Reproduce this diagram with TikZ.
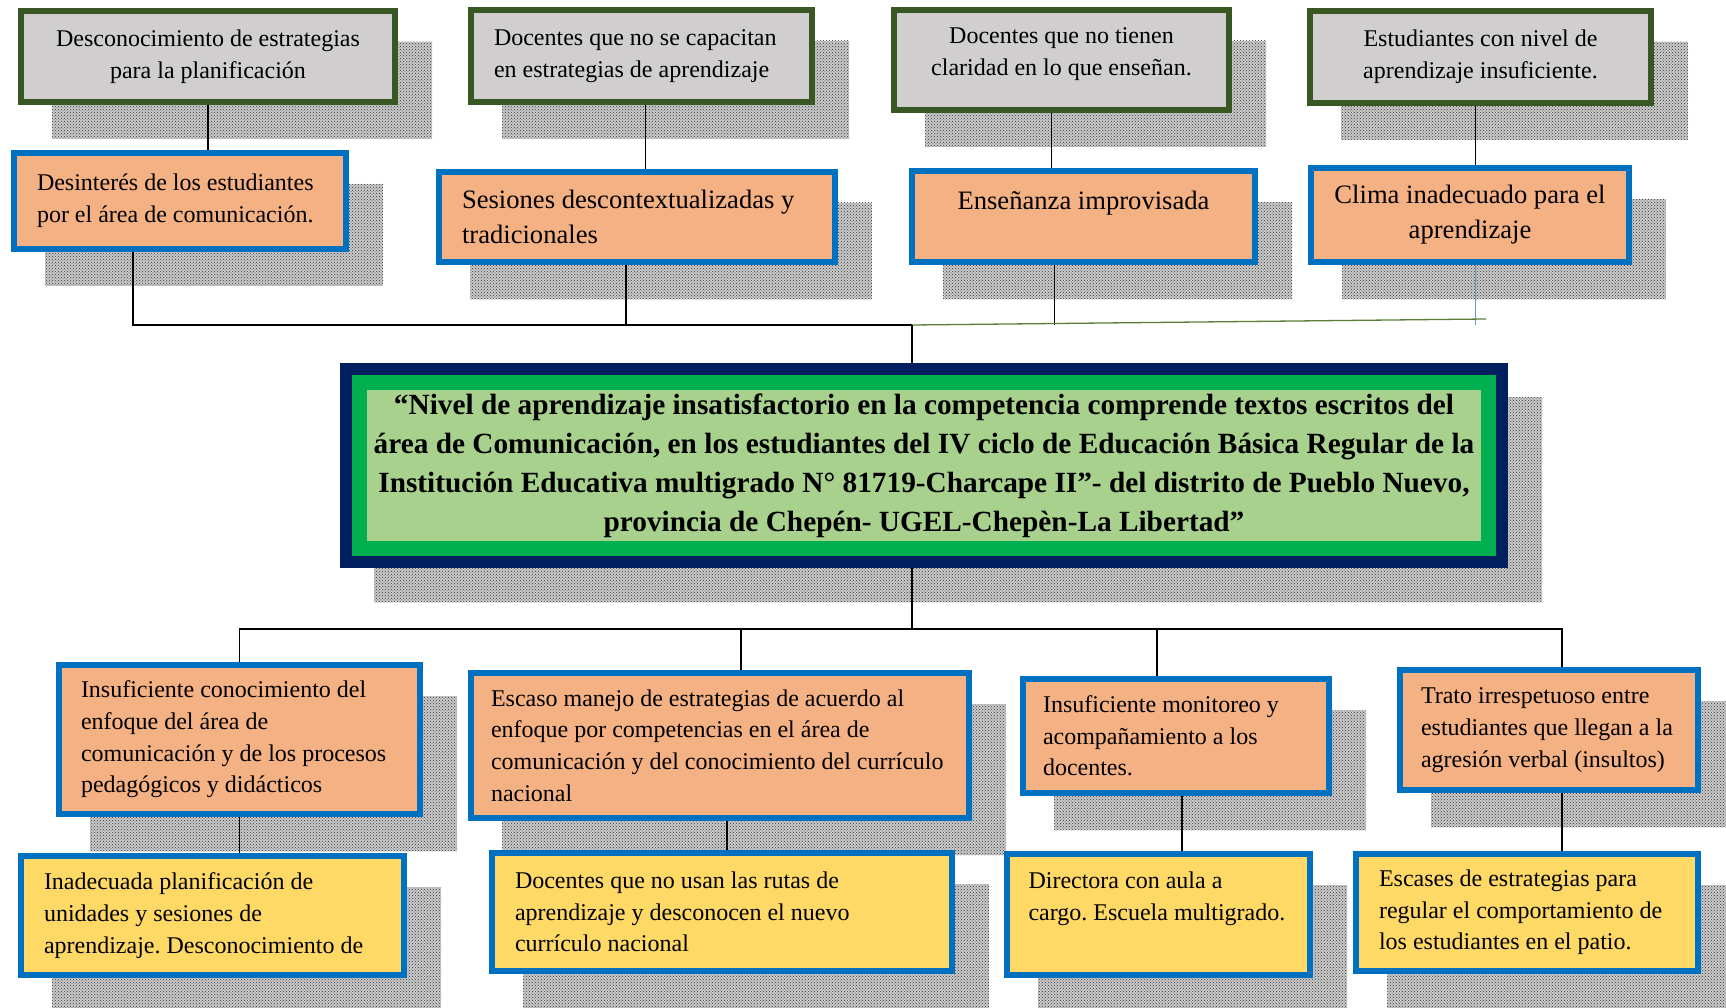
\documentclass[tikz,border=0pt]{standalone}
\usepackage{fontspec}
\setmainfont{Liberation Serif}
\usetikzlibrary{patterns,backgrounds}
\frenchspacing

\definecolor{causegrey}{HTML}{D0CECE}
\definecolor{causegreen}{HTML}{385723}
\definecolor{effectorange}{HTML}{F4B183}
\definecolor{boxblue}{HTML}{0070C0}
\definecolor{rootyellow}{HTML}{FFD966}
\definecolor{mainnavy}{HTML}{002060}
\definecolor{mainband}{HTML}{00B050}
\definecolor{mainlight}{HTML}{A9D18E}
\definecolor{busgreen}{HTML}{5B7F3A}
\definecolor{thinblue}{HTML}{5B9BD5}

\begin{document}
\begin{tikzpicture}[
    x=1pt, y=-1pt,
    cause/.style={rectangle, draw=causegreen, line width=6pt, fill=causegrey, outer sep=3pt, font=\fontsize{24}{32}\selectfont},
    effect/.style={rectangle, draw=boxblue, line width=6pt, fill=effectorange, outer sep=3pt, font=\fontsize{24}{31.7}\selectfont},
    bigeffect/.style={effect, font=\fontsize{26.6}{35}\selectfont},
    root/.style={rectangle, draw=boxblue, line width=6pt, fill=rootyellow, outer sep=3pt, font=\fontsize{24}{31.7}\selectfont},
    problem/.style={rectangle, draw=mainband, line width=15pt, fill=mainlight, preaction={draw=mainnavy, line width=39pt}, outer sep=19.5pt, inner sep=2pt, font=\bfseries\fontsize{29.3}{39}\selectfont},
    link/.style={draw=black, line width=1.3pt},
    shadowbox/.style={fill=gray!42, postaction={pattern=crosshatch dots, pattern color=gray!45!black}}
]
\useasboundingbox (0,0) rectangle (1726,1008);

% top row: causes
\node[cause, minimum width=374pt, minimum height=91pt, text width=328pt, align=flush center] (g1) at (208,56.5) {Desconocimiento de estrategias\\ para la planificación};
\node[cause, minimum width=341pt, minimum height=92pt, text width=295pt, align=flush left] (g2) at (641.5,56) {Docentes que no se capacitan\\ en estrategias de aprendizaje};
\node[cause, minimum width=335pt, minimum height=100pt, text width=305pt, align=flush center, text depth=48pt] (g3) at (1061.5,60) {Docentes que no tienen\\ claridad en lo que enseñan.};
\node[cause, minimum width=341pt, minimum height=92pt, text width=311pt, align=flush center] (g4) at (1480.5,57) {Estudiantes con nivel de\\ aprendizaje insuficiente.};

% second row: effects
\node[effect, minimum width=332pt, minimum height=96pt, text width=286pt, align=flush left] (o1) at (180,201) {Desinterés de los estudiantes\\ por el área de comunicación.};
\node[bigeffect, minimum width=396pt, minimum height=90pt, text width=350pt, align=flush left] (o2) at (637,217) {Sesiones descontextualizadas y\\ tradicionales};
\node[bigeffect, minimum width=343pt, minimum height=91pt, text width=313pt, align=flush center, text height=19pt, text depth=32pt] (o3) at (1083.5,216.5) {Enseñanza improvisada};
\node[bigeffect, minimum width=318pt, minimum height=94pt, text width=294pt, align=flush center] (o4) at (1470,215) {Clima inadecuado para el\\ aprendizaje};

% central problem
\node[problem, minimum width=1129pt, minimum height=166pt, text width=1122pt, align=flush center] (main) at (924,465.5) {“Nivel de aprendizaje insatisfactorio en la competencia comprende textos escritos del\\ área de Comunicación, en los estudiantes del IV ciclo de Educación Básica Regular de la\\ Institución Educativa multigrado N° 81719-Charcape II”- del distrito de Pueblo Nuevo,\\ provincia de Chepén- UGEL-Chepèn-La Libertad”};

% lower row: causes
\node[effect, minimum width=361pt, minimum height=149pt, text width=317pt, align=flush left] (ob1) at (239.5,739.5) {Insuficiente conocimiento del\\ enfoque del área de\\ comunicación y de los procesos\\ pedagógicos y didácticos};
\node[effect, minimum width=498pt, minimum height=145pt, text width=458pt, align=flush left] (ob2) at (720,745.5) {Escaso manejo de estrategias de acuerdo al\\ enfoque por competencias en el área de\\ comunicación y del conocimiento del currículo\\ nacional};
\node[effect, minimum width=306pt, minimum height=114pt, text width=266pt, align=flush left] (ob3) at (1176,736) {Insuficiente monitoreo y\\ acompañamiento a los\\ docentes.};
\node[effect, minimum width=298pt, minimum height=120pt, text width=256pt, align=flush left] (ob4) at (1549,730) {Trato irrespetuoso entre\\ estudiantes que llegan a la\\ agresión verbal (insultos)};

% bottom row: roots
\node[root, minimum width=383pt, minimum height=119pt, text width=337pt, align=flush left] (y1) at (212.5,915.5) {Inadecuada planificación de\\ unidades y sesiones de\\ aprendizaje. Desconocimiento de};
\node[root, minimum width=460pt, minimum height=118pt, text width=414pt, align=flush left] (y2) at (722,912) {Docentes que no usan las rutas de\\ aprendizaje y desconocen el nuevo\\ currículo nacional};
\node[root, minimum width=303pt, minimum height=121pt, text width=260pt, align=flush left, text depth=69pt] (y3) at (1158.5,914.5) {Directora con aula a\\ cargo. Escuela multigrado.};
\node[root, minimum width=342pt, minimum height=117pt, text width=296pt, align=flush left] (y4) at (1527,912.5) {Escases de estrategias para\\ regular el comportamiento de\\ los estudiantes en el patio.};

% shadows
\begin{scope}[on background layer]
\foreach \n in {g1,g2,g3,g4,o1,o2,o3,o4,main,ob1,ob2,ob3,ob4,y1,y2,y3,y4}
  \fill[shadowbox] ([shift={(34,34)}]\n.north west) rectangle ([shift={(34,34)}]\n.south east);
\end{scope}

\coordinate (topbus) at (912,325);
\coordinate (botbus) at (912,629);

% upper connectors
\draw[link] (g1.south) -- (g1.south |- o1.north);
\draw[link] ([xshift=4pt]g2.south) -- ([xshift=4pt]g2.south |- o2.north);
\draw[link] ([xshift=-10pt]g3.south) -- ([xshift=-10pt]g3.south |- o3.north);
\draw[link] ([xshift=-5pt]g4.south) -- ([xshift=-5pt]g4.south |- o4.north);
\draw[link] ([xshift=-47pt]o1.south) -- ([xshift=-47pt]o1.south |- topbus) -- (topbus);
\draw[link] ([xshift=-11pt]o2.south) -- ([xshift=-11pt]o2.south |- topbus);
\draw[link] ([xshift=-29pt]o3.south) -- ([xshift=-29pt]o3.south |- topbus);
\draw[draw=thinblue, line width=1pt] ([xshift=5pt]o4.south) -- ([xshift=5pt]o4.south |- topbus);
\draw[draw=busgreen, line width=1.3pt] (topbus) -- ++(574,-6);
\draw[link] (topbus) -- (topbus |- main.north);

% lower connectors
\draw[link] (main.south -| botbus) -- (botbus);
\draw[link] (ob1.north) -- (ob1.north |- botbus) -- ([xshift=13pt]ob4.north |- botbus) -- ([xshift=13pt]ob4.north);
\draw[link] ([xshift=21pt]ob2.north) -- ([xshift=21pt]ob2.north |- botbus);
\draw[link] ([xshift=-19pt]ob3.north) -- ([xshift=-19pt]ob3.north |- botbus);
\draw[link] (ob1.south) -- (ob1.south |- y1.north);
\draw[link] ([xshift=7pt]ob2.south) -- ([xshift=7pt]ob2.south |- y2.north);
\draw[link] ([xshift=6pt]ob3.south) -- ([xshift=6pt]ob3.south |- y3.north);
\draw[link] ([xshift=13pt]ob4.south) -- ([xshift=13pt]ob4.south |- y4.north);
\end{tikzpicture}
\end{document}
